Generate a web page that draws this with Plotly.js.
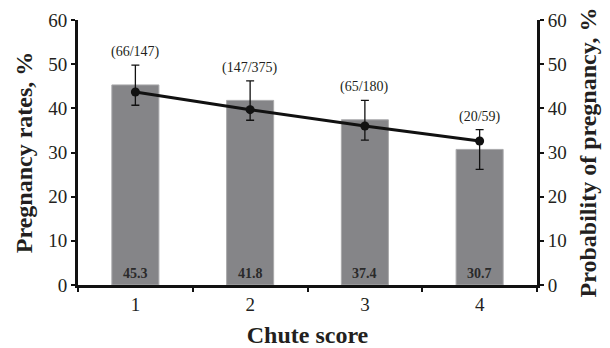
<!DOCTYPE html>
<html>
<head>
<meta charset="utf-8">
<script src="https://cdn.plot.ly/plotly-3.0.1.min.js"></script>
<style>
  html, body { margin: 0; padding: 0; background: #fff; }
  #chart { width: 610px; height: 348px; }
</style>
</head>
<body>
<div id="chart"></div>
<script>
// Chute score categories
const scores = ['1', '2', '3', '4'];
// Observed pregnancy rates, %
const pregnancyRates = [45.3, 41.8, 37.4, 30.7];
// Pregnant / total counts per score
const countLabels = ['(66/147)', '(147/375)', '(65/180)', '(20/59)'];
// Model-estimated probability of pregnancy, % with its confidence bounds
const probability = [43.7, 39.7, 36.0, 32.6];
const probUpper = [49.8, 46.2, 41.8, 35.2];
const probLower = [40.7, 37.3, 32.8, 26.2];

const serif = '"Liberation Serif", "Times New Roman", serif';
const textColor = '#231f20';

const bars = {
  type: 'bar',
  x: scores,
  y: pregnancyRates,
  width: 0.41,
  marker: { color: '#858588', line: { color: '#a9a9ab', width: 1 } },
  hoverinfo: 'skip',
  yaxis: 'y'
};

const line = {
  type: 'scatter',
  mode: 'lines+markers',
  x: scores,
  y: probability,
  yaxis: 'y2',
  line: { color: '#111', width: 3 },
  marker: { color: '#111', size: 9 },
  error_y: {
    type: 'data',
    symmetric: false,
    array: probUpper.map((u, i) => u - probability[i]),
    arrayminus: probability.map((p, i) => p - probLower[i]),
    color: '#111',
    thickness: 1.3,
    width: 4
  },
  hoverinfo: 'skip'
};

// Category positions are addressed by index on the category axis
const annotations = [];
scores.forEach((s, i) => {
  annotations.push({
    x: i, y: probUpper[i], xref: 'x', yref: 'y2',
    text: countLabels[i], showarrow: false,
    yanchor: 'bottom', yshift: 3,
    font: { family: serif, size: 14, color: textColor }
  });
  annotations.push({
    x: i, y: 0, xref: 'x', yref: 'y',
    text: '<b>' + pregnancyRates[i].toFixed(1) + '</b>', showarrow: false,
    yanchor: 'bottom', yshift: 2,
    font: { family: serif, size: 14, color: '#2a2a2a' }
  });
});

const yAxisCommon = {
  range: [0, 60],
  dtick: 10,
  showgrid: false,
  zeroline: false,
  showline: true,
  linecolor: '#111',
  linewidth: 3,
  ticks: 'outside',
  ticklen: 4,
  tickwidth: 2,
  tickcolor: '#111',
  tickfont: { family: serif, size: 19, color: textColor },
  fixedrange: true
};

const titleFont = { family: serif, size: 24, color: textColor };

const layout = {
  width: 610,
  height: 348,
  margin: { l: 78, r: 73, t: 20, b: 63 },
  paper_bgcolor: '#fff',
  plot_bgcolor: '#fff',
  showlegend: false,
  bargap: 0,
  xaxis: {
    type: 'category',
    range: [-0.5, 3.5],
    tickson: 'boundaries',
    ticks: 'outside',
    ticklen: 4,
    tickwidth: 2,
    tickcolor: '#111',
    showline: true,
    linecolor: '#111',
    linewidth: 3,
    showgrid: false,
    zeroline: false,
    tickfont: { family: serif, size: 19, color: textColor },
    title: { text: '<b>Chute score</b>', font: titleFont, standoff: 13 },
    fixedrange: true
  },
  yaxis: Object.assign({}, yAxisCommon, {
    side: 'left',
    title: { text: '<b>Pregnancy rates, %</b>', font: titleFont, standoff: 9 }
  }),
  yaxis2: Object.assign({}, yAxisCommon, {
    side: 'right',
    overlaying: 'y',
    title: { text: '<b>Probability of pregnancy, %</b>', font: titleFont, standoff: 14 }
  }),
  annotations: annotations
};

Plotly.newPlot('chart', [bars, line], layout, { displayModeBar: false, staticPlot: true });
</script>
</body>
</html>
